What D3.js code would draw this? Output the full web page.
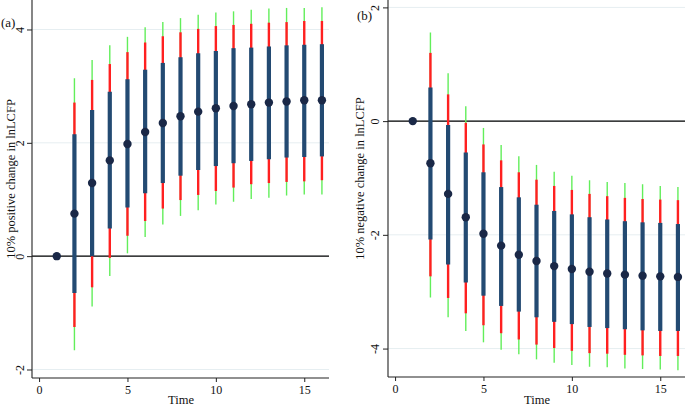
<!DOCTYPE html>
<html>
<head>
<meta charset="utf-8">
<script src="https://cdn.jsdelivr.net/npm/d3@7"></script>
<style>
  html, body { margin: 0; padding: 0; background: #fff; }
  svg { display: block; }
  text { font-family: "Liberation Serif", "Times New Roman", serif; fill: #111; }
</style>
</head>
<body>
<svg id="chart" width="685" height="407"></svg>
<script>
// ---- data ----
const time = [1,2,3,4,5,6,7,8,9,10,11,12,13,14,15,16];
const xTicks = [0, 5, 10, 15];

// Panel (a): 10% positive change
const posEst     = [0, 0.75, 1.29, 1.69, 1.98, 2.19, 2.35, 2.47, 2.55, 2.61, 2.65, 2.68, 2.71, 2.73, 2.75, 2.75];
const posNavyLo  = [-0.02, -0.65, 0.00, 0.49, 0.86, 1.11, 1.29, 1.42, 1.52, 1.59, 1.64, 1.68, 1.71, 1.74, 1.75, 1.76];
const posNavyHi  = [0.02, 2.15, 2.58, 2.90, 3.12, 3.29, 3.41, 3.51, 3.58, 3.62, 3.67, 3.68, 3.70, 3.72, 3.73, 3.74];
const posRedLo   = [-0.03, -1.25, -0.55, -0.03, 0.36, 0.62, 0.84, 0.99, 1.08, 1.15, 1.21, 1.27, 1.29, 1.31, 1.32, 1.34];
const posRedHi   = [0.03, 2.71, 3.11, 3.39, 3.60, 3.77, 3.88, 3.95, 4.01, 4.06, 4.08, 4.10, 4.12, 4.13, 4.15, 4.15];
const posGreenLo = [-0.04, -1.66, -0.89, -0.35, 0.05, 0.34, 0.56, 0.71, 0.81, 0.91, 0.96, 1.01, 1.03, 1.07, 1.09, 1.09];
const posGreenHi = [0.04, 3.14, 3.46, 3.72, 3.87, 4.04, 4.13, 4.20, 4.26, 4.30, 4.32, 4.35, 4.37, 4.38, 4.38, 4.39];
const posYTicks  = [-2, 0, 2, 4];

// Panel (b): 10% negative change
const negEst     = [0, -0.74, -1.28, -1.69, -1.98, -2.19, -2.35, -2.46, -2.55, -2.60, -2.65, -2.68, -2.70, -2.72, -2.73, -2.74];
const negNavyHi  = [0.02, 0.59, -0.07, -0.55, -0.90, -1.16, -1.34, -1.47, -1.58, -1.64, -1.69, -1.73, -1.76, -1.78, -1.79, -1.81];
const negNavyLo  = [-0.02, -2.08, -2.52, -2.84, -3.07, -3.25, -3.35, -3.45, -3.53, -3.57, -3.62, -3.64, -3.66, -3.68, -3.69, -3.69];
const negRedHi   = [0.03, 1.20, 0.47, -0.03, -0.41, -0.69, -0.90, -1.03, -1.14, -1.21, -1.28, -1.32, -1.35, -1.37, -1.38, -1.39];
const negRedLo   = [-0.03, -2.73, -3.11, -3.38, -3.59, -3.73, -3.84, -3.93, -3.99, -4.04, -4.08, -4.09, -4.11, -4.12, -4.13, -4.13];
const negGreenHi = [0.04, 1.56, 0.84, 0.26, -0.12, -0.42, -0.62, -0.77, -0.89, -0.96, -1.04, -1.07, -1.09, -1.11, -1.14, -1.16];
const negGreenLo = [-0.04, -3.10, -3.45, -3.69, -3.89, -4.02, -4.10, -4.19, -4.25, -4.29, -4.32, -4.33, -4.35, -4.36, -4.37, -4.38];
const negYTicks  = [-4, -2, 0, 2];

const panels = [
  { tag: "(a)", title: "10% positive change in lnLCFP",
    est: posEst, navy: [posNavyLo, posNavyHi], red: [posRedLo, posRedHi], green: [posGreenLo, posGreenHi],
    yTicks: posYTicks, yDomain: [-2.15, 4.52],
    left: 32, right: 329, top: 0, bottom: 378,
    titleX: 11, tickLabX: 20, tagX: 1, tagY: 27, timeX: 181 },
  { tag: "(b)", title: "10% negative change in lnLCFP",
    est: negEst, navy: [negNavyLo, negNavyHi], red: [negRedLo, negRedHi], green: [negGreenLo, negGreenHi],
    yTicks: negYTicks, yDomain: [-4.50, 2.13],
    left: 388, right: 685, top: 0, bottom: 377,
    titleX: 360, tickLabX: 375, tagX: 357, tagY: 20, timeX: 537 }
];

const svg = d3.select("#chart");
const colNavy = "#234a72", colRed = "#ff2020", colGreen = "#62ee5a", colDot = "#1a2847", colGrid = "#e6eef1";

panels.forEach(p => {
  const x = d3.scaleLinear().domain([-0.4, 16.4]).range([p.left, p.right]);
  const y = d3.scaleLinear().domain(p.yDomain).range([p.bottom, p.top]);
  const g = svg.append("g");

  // gridlines
  g.selectAll(".grid").data(p.yTicks).enter().append("line")
    .attr("x1", p.left).attr("x2", p.right)
    .attr("y1", d => y(d)).attr("y2", d => y(d))
    .attr("stroke", colGrid).attr("stroke-width", 1);

  // zero line
  g.append("line").attr("x1", p.left).attr("x2", p.right)
    .attr("y1", y(0)).attr("y2", y(0))
    .attr("stroke", "#000").attr("stroke-width", 1.3);

  const idx = d3.range(time.length);
  const bands = [
    { lo: p.green[0], hi: p.green[1], c: colGreen, w: 1.4 },
    { lo: p.red[0], hi: p.red[1], c: colRed, w: 2.4 },
    { lo: p.navy[0], hi: p.navy[1], c: colNavy, w: 4.2 }
  ];
  bands.forEach(b => {
    g.selectAll(null).data(idx).enter().append("line")
      .attr("x1", i => x(time[i])).attr("x2", i => x(time[i]))
      .attr("y1", i => y(b.lo[i])).attr("y2", i => y(b.hi[i]))
      .attr("stroke", b.c).attr("stroke-width", b.w);
  });

  g.selectAll(null).data(idx).enter().append("circle")
    .attr("cx", i => x(time[i])).attr("cy", i => y(p.est[i]))
    .attr("r", 4.2).attr("fill", colDot);

  // axes
  const yAxis = d3.axisLeft(y).tickValues(p.yTicks).tickSize(5).tickFormat(d => d < 0 ? "-" + Math.abs(d) : d);
  const ya = g.append("g").attr("transform", `translate(${p.left},0)`).call(yAxis);
  ya.select(".domain").attr("d", `M0,${p.top}V${p.bottom}`).attr("stroke", "#222").attr("stroke-width", 1.1);
  ya.selectAll(".tick line").attr("stroke", "#222");
  ya.selectAll(".tick text")
    .attr("x", null).attr("dy", null)
    .attr("transform", d => `translate(${p.tickLabX - p.left + 4},0) rotate(-90)`)
    .attr("text-anchor", "middle")
    .style("font-family", "Liberation Serif").style("font-size", "12px").attr("fill", "#111");

  const xAxis = d3.axisBottom(x).tickValues(xTicks).tickSize(4);
  const xa = g.append("g").attr("transform", `translate(0,${p.bottom})`).call(xAxis);
  xa.select(".domain").attr("d", `M${p.left},0H${p.right}`).attr("stroke", "#222").attr("stroke-width", 1.1);
  xa.selectAll(".tick line").attr("stroke", "#222");
  xa.selectAll(".tick text").attr("y", 7).attr("dy", "0.71em")
    .style("font-family", "Liberation Serif").style("font-size", "12px").attr("fill", "#111");

  // titles
  g.append("text").attr("x", p.timeX).attr("y", 404).attr("text-anchor", "middle")
    .style("font-size", "12.5px").text("Time");
  g.append("text")
    .attr("transform", `translate(${p.titleX},${(p.top + p.bottom) / 2 - 10}) rotate(-90)`)
    .attr("dy", "0.35em").attr("text-anchor", "middle")
    .style("font-size", "12.5px").text(p.title);
  g.append("text").attr("x", p.tagX).attr("y", p.tagY)
    .style("font-size", "13px").text(p.tag);
});
</script>
</body>
</html>
